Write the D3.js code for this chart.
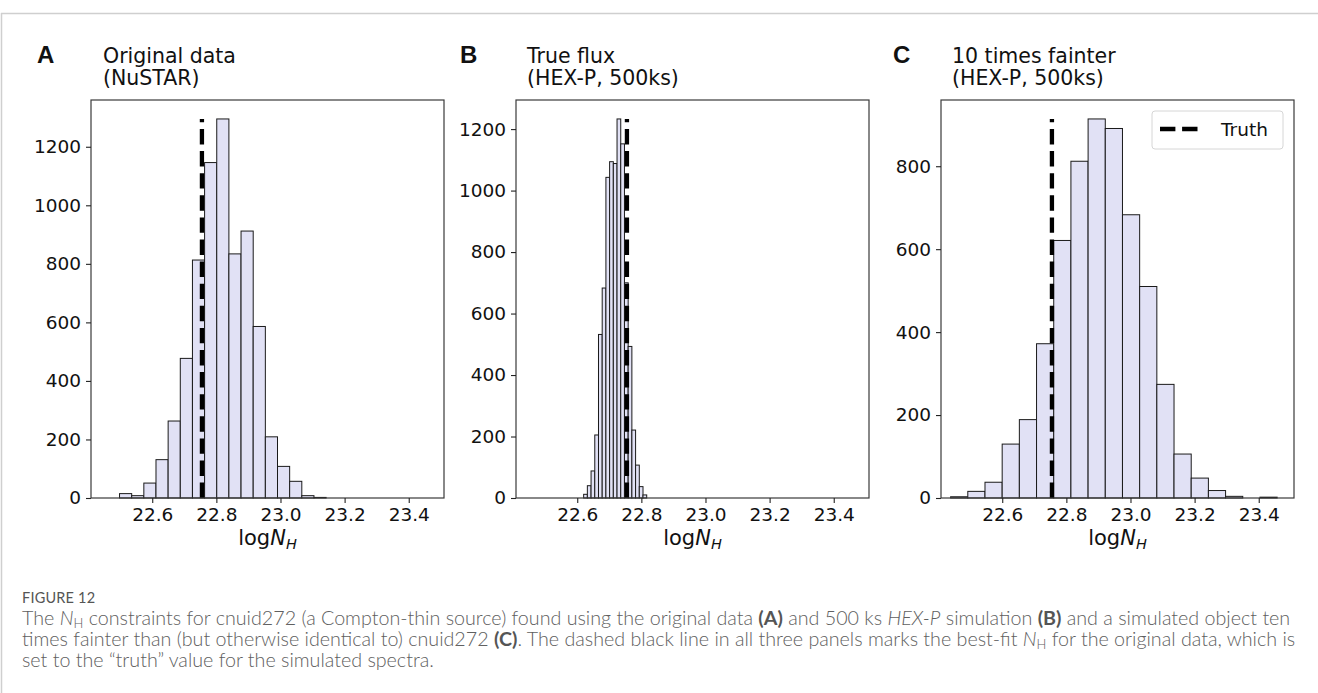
<!DOCTYPE html>
<html><head><meta charset="utf-8">
<script src="https://cdn.jsdelivr.net/npm/d3@7"></script>
<style>body{margin:0;background:#fff} svg{display:block}</style>
</head><body>
<svg id="c" width="1318" height="693"></svg>
<script>
// ---------------- data ----------------
const xTickValues = [22.6, 22.8, 23.0, 23.2, 23.4];
const truthLogNH = 22.755;
const panelLetters = ["A", "B", "C"];
const panelTitles = [["Original data", "(NuSTAR)"], ["True flux", "(HEX-P, 500ks)"], ["10 times fainter", "(HEX-P, 500ks)"]];
const binStartA = 22.498, binWidthA = 0.0379;
const countsA = [15, 8, 51, 131, 263, 477, 813, 1146, 1295, 834, 912, 586, 209, 108, 57, 8, 2];
const binStartB = 22.620, binWidthB = 0.01157;
const countsB = [12, 40, 88, 205, 532, 683, 1043, 1094, 1088, 1233, 1152, 700, 493, 221, 107, 37, 10];
const binStartC = 22.439, binWidthC = 0.0536;
const countsC = [3, 16, 38, 130, 189, 372, 621, 812, 914, 891, 683, 510, 274, 106, 48, 18, 4, 0, 2];
const yTicksA = [0, 200, 400, 600, 800, 1000, 1200];
const yTicksB = [0, 200, 400, 600, 800, 1000, 1200];
const yTicksC = [0, 200, 400, 600, 800];
const legendLabel = "Truth";

// ---------------- layout ----------------
const svg = d3.select("#c");
const W = 1318, H = 693;
const plotTop = 100, plotBottom = 498, plotW = 353;
const panelLeft = [91, 516, 941];
const letterX = [37, 460, 893];
const titleX = [103, 527, 952];
const xDomain = [22.409, 23.51];
const tickFont = "'DejaVu Sans', sans-serif";

// frame
svg.append("line").attr("x1", 1).attr("x2", W).attr("y1", 13.5).attr("y2", 13.5).attr("stroke", "#cfcfcf").attr("stroke-width", 1.5);
svg.append("line").attr("x1", 1.5).attr("x2", 1.5).attr("y1", 13).attr("y2", H).attr("stroke", "#cfcfcf").attr("stroke-width", 1.5);

const panels = [
  {start: binStartA, width: binWidthA, counts: countsA, yTicks: yTicksA},
  {start: binStartB, width: binWidthB, counts: countsB, yTicks: yTicksB},
  {start: binStartC, width: binWidthC, counts: countsC, yTicks: yTicksC}
];

panels.forEach((p, i) => {
  const L = panelLeft[i];
  const g = svg.append("g");
  const x = d3.scaleLinear().domain(xDomain).range([L, L + plotW]);
  const maxC = d3.max(p.counts);
  const y = d3.scaleLinear().domain([0, maxC * 1.05]).range([plotBottom, plotTop]);

  const bins = p.counts.map((c, k) => ({x0: p.start + k * p.width, x1: p.start + (k + 1) * p.width, c}));
  g.selectAll("rect.bar").data(bins).join("rect")
    .attr("class", "bar")
    .attr("x", d => x(d.x0)).attr("width", d => x(d.x1) - x(d.x0))
    .attr("y", d => y(d.c)).attr("height", d => y(0) - y(d.c))
    .attr("fill", "#e1e1f5").attr("stroke", "#1a1a1a").attr("stroke-width", 1);

  // truth line
  g.append("line")
    .attr("x1", x(truthLogNH)).attr("x2", x(truthLogNH))
    .attr("y1", y(0)).attr("y2", y(maxC))
    .attr("stroke", "#000").attr("stroke-width", 4.3)
    .attr("stroke-dasharray", "15.4,6.7");

  // frame
  g.append("rect").attr("x", L).attr("y", plotTop).attr("width", plotW).attr("height", plotBottom - plotTop)
    .attr("fill", "none").attr("stroke", "#3a3a3a").attr("stroke-width", 1.2);

  // axes
  const ax = g.append("g").attr("transform", `translate(0,${plotBottom})`)
    .call(d3.axisBottom(x).tickValues(xTickValues).tickFormat(d3.format(".1f")).tickSize(5).tickPadding(5));
  const ay = g.append("g").attr("transform", `translate(${L},0)`)
    .call(d3.axisLeft(y).tickValues(p.yTicks).tickFormat(d3.format("d")).tickSize(5).tickPadding(5));
  [ax, ay].forEach(a => {
    a.select(".domain").remove();
    a.selectAll(".tick line").attr("stroke", "#222").attr("stroke-width", 1.1);
    a.selectAll(".tick text").attr("font-family", tickFont).attr("font-size", 18.5).attr("fill", "#111");
  });

  // x label
  const xl = g.append("text").attr("x", L + plotW / 2).attr("y", 545).attr("text-anchor", "middle")
    .attr("font-family", tickFont).attr("font-size", 21).attr("fill", "#111");
  xl.append("tspan").text("log");
  xl.append("tspan").attr("font-style", "italic").text("N");
  xl.append("tspan").attr("font-style", "italic").attr("font-size", 14.5).attr("dy", 4).text("H");

  // panel letter + title
  svg.append("text").attr("x", letterX[i]).attr("y", 63).attr("font-family", "'Liberation Sans', Arial, sans-serif")
    .attr("font-weight", "bold").attr("font-size", 24).attr("fill", "#111").text(panelLetters[i]);
  panelTitles[i].forEach((t, k) => {
    svg.append("text").attr("x", titleX[i]).attr("y", 63 + k * 22).attr("font-family", tickFont)
      .attr("font-size", 20.5).attr("fill", "#111").text(t);
  });

  if (i === 2) {
    const lg = g.append("g");
    lg.append("rect").attr("x", 1152).attr("y", 111).attr("width", 131).attr("height", 38).attr("rx", 3)
      .attr("fill", "#fff").attr("fill-opacity", 0.85).attr("stroke", "#d6d6d6").attr("stroke-width", 1);
    lg.append("line").attr("x1", 1160).attr("x2", 1198).attr("y1", 129).attr("y2", 129)
      .attr("stroke", "#000").attr("stroke-width", 4.3).attr("stroke-dasharray", "15.4,6.7");
    lg.append("text").attr("x", 1221).attr("y", 135.5).attr("font-family", tickFont).attr("font-size", 18.5)
      .attr("fill", "#111").text(legendLabel);
  }
});

// ---------------- caption ----------------
const capFont = "Lato, 'Open Sans', sans-serif";
const capColor = "#606060";
svg.append("text").attr("x", 22).attr("y", 603).attr("font-family", capFont).attr("font-size", 14.5)
  .attr("fill", "#555").attr("letter-spacing", 0.2).text("FIGURE 12");

function captionLine(yPos, parts) {
  const t = svg.append("text").attr("x", 22).attr("y", yPos).attr("font-family", capFont)
    .attr("font-size", 19.7).attr("font-weight", 300).attr("fill", capColor);
  parts.forEach(p => {
    const s = t.append("tspan").text(p.t);
    if (p.i) s.attr("font-style", "italic");
    if (p.b) s.attr("font-weight", "bold").attr("fill", "#555");
    if (p.sub) s.attr("font-size", 13).attr("dy", 3);
    if (p.up) s.attr("dy", -3);
  });
}
captionLine(625, [
  {t: "The "}, {t: "N", i: true}, {t: "H", sub: true},
  {t: " constraints for cnuid272 (a Compton-thin source) found using the original data ", up: true},
  {t: "(A)", b: true}, {t: " and 500 ks "}, {t: "HEX-P", i: true}, {t: " simulation "}, {t: "(B)", b: true},
  {t: " and a simulated object ten"}
]);
captionLine(646, [
  {t: "times fainter than (but otherwise identical to) cnuid272 "}, {t: "(C)", b: true},
  {t: ". The dashed black line in all three panels marks the best-fit "}, {t: "N", i: true}, {t: "H", sub: true},
  {t: " for the original data, which is", up: true}
]);
captionLine(667, [{t: "set to the \u201ctruth\u201d value for the simulated spectra."}]);
</script>
</body></html>
